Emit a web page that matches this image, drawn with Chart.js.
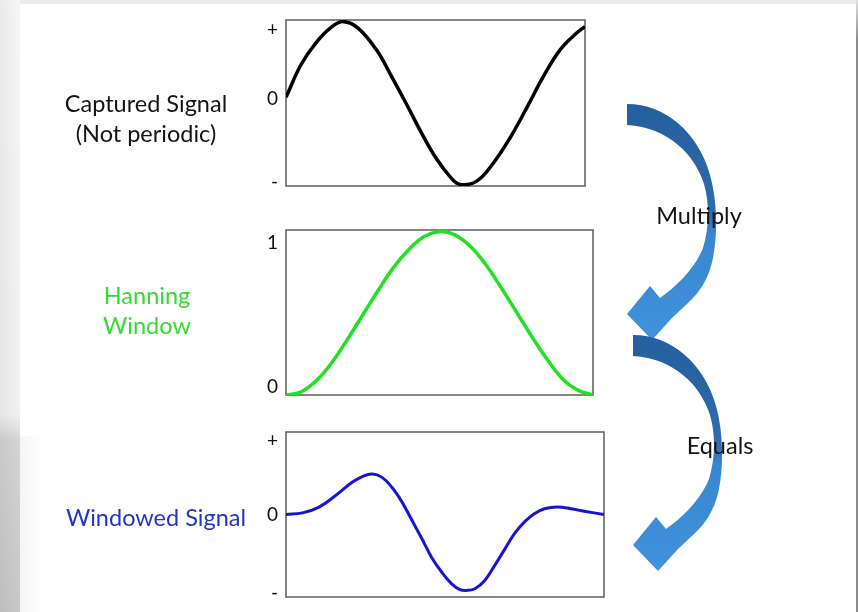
<!DOCTYPE html>
<html>
<head>
<meta charset="utf-8">
<script src="https://cdn.jsdelivr.net/npm/chart.js@4.4.0/dist/chart.umd.js"></script>
<style>
    body { margin: 0; }
    #slide {
        position: relative;
        width: 858px;
        height: 612px;
        overflow: hidden;
        background: #fff;
        font-family: Lato, 'Open Sans', sans-serif;
    }
    #slide canvas, #slide svg, .edge, .lbl { position: absolute; }
    .lbl {
        width: 300px;
        text-align: center;
        font-size: 23.5px;
        line-height: 30px;
        color: #141414;
        white-space: nowrap;
    }
    #topEdge { left: 0; top: 0; width: 858px; height: 4px; background: #ececec; }
    #leftEdge {
        left: 0; top: 0; width: 20px; height: 612px;
        background: linear-gradient(to right, rgba(0,0,0,0.05), rgba(0,0,0,0)),
                    linear-gradient(to bottom, #f6f6f6 0, #f1f1f1 415px, #d4d4d4 440px, #c8c8c8 612px);
    }
    #leftShade {
        left: 20px; top: 436px; width: 24px; height: 176px;
        background: linear-gradient(to right, #f5f5f5, #ffffff);
    }
    #rightEdge {
        left: 856px; top: 0; width: 2px; height: 612px;
        background: linear-gradient(to bottom, #e0e0e0 0, #8c8c8c 40px, #8c8c8c 612px);
    }
</style>
</head>
<body>
<div id="slide">
    <div class="edge" id="topEdge"></div>
    <div class="edge" id="leftEdge"></div>
    <div class="edge" id="leftShade"></div>
    <div class="edge" id="rightEdge"></div>

    <canvas id="signalChart"></canvas>
    <canvas id="windowChart"></canvas>
    <canvas id="windowedChart"></canvas>

    <svg id="arrows" width="858" height="612" style="left:0;top:0">
        <defs>
            <linearGradient id="arrowFill" gradientUnits="userSpaceOnUse" x1="0" y1="105" x2="0" y2="335">
                <stop offset="0" stop-color="#255f9d"/>
                <stop offset="0.46" stop-color="#2c6cae"/>
                <stop offset="0.56" stop-color="#3886cf"/>
                <stop offset="1" stop-color="#4092dc"/>
            </linearGradient>
        </defs>
    </svg>

    <div class="lbl" style="left:-4px;top:88px">Captured Signal</div>
    <div class="lbl" style="left:-4px;top:118px">(Not periodic)</div>
    <div class="lbl" style="left:-3px;top:280px;color:#35dc35">Hanning</div>
    <div class="lbl" style="left:-3px;top:310px;color:#35dc35">Window</div>
    <div class="lbl" style="left:6px;top:502px;color:#2236c2">Windowed Signal</div>
    <div class="lbl" style="left:549px;top:200px">Multiply</div>
    <div class="lbl" style="left:570px;top:430px">Equals</div>
</div>

<script>
// Captured signal (x in % of the plot width)
const sigX = [0, 5.0, 10.0, 15.1, 19.2, 24.1, 30.3, 35.1, 40.1, 45.2, 50.2, 55.2, 58.2, 63.8, 69.3, 74.9, 80.5, 86.0, 91.6, 97.2, 100];
const sigY = [0.07, 0.47, 0.74, 0.93, 1.0, 0.92, 0.65, 0.34, 0.0, -0.36, -0.68, -0.92, -1.0, -0.96, -0.74, -0.43, -0.06, 0.32, 0.65, 0.86, 0.94];
const sigTicks = [0.9, 0.05, -0.97];
const sigTickText = ['+', '0', '-'];

// Hanning window
const hannX = [0, 5, 10, 15, 20, 25, 30, 35, 40, 45, 50, 55, 60, 65, 70, 75, 80, 85, 90, 95, 100];
const hannY = [0, 0.02, 0.09, 0.20, 0.34, 0.49, 0.64, 0.78, 0.89, 0.97, 1.0, 0.98, 0.91, 0.80, 0.66, 0.51, 0.36, 0.22, 0.10, 0.03, 0];
const hannTicks = [0.93, 0.05];
const hannTickText = ['1', '0'];

// Windowed signal
const winX = [0, 5.2, 10.4, 15.6, 20.8, 24.0, 27.1, 30.2, 33.3, 36.5, 39.6, 42.7, 45.8, 49.0, 52.1, 54.7, 56.8, 59.4, 62.5, 65.6, 68.8, 71.9, 75.0, 78.1, 81.3, 85.4, 89.6, 93.8, 100];
const winY = [0, 0.02, 0.09, 0.23, 0.39, 0.46, 0.49, 0.45, 0.33, 0.15, -0.07, -0.29, -0.52, -0.70, -0.84, -0.91, -0.92, -0.90, -0.80, -0.62, -0.42, -0.23, -0.09, 0.01, 0.07, 0.09, 0.07, 0.04, 0];
const winTicks = [0.89, 0, -0.95];
const winTickText = ['+', '0', '-'];

// plot boxes on the slide
const CANVAS_LEFT = 236;
const PAD = 22;
const boxes = {
    signal: { left: 286, right: 585, top: 20, bottom: 186 },
    hann: { left: 286, right: 593, top: 230, bottom: 395 },
    windowed: { left: 286, right: 604, top: 432, bottom: 597 }
};

// frame round the plot area
const framePlugin = {
    id: 'frame',
    beforeDatasetsDraw(chart) {
        const a = chart.chartArea;
        const ctx = chart.ctx;
        ctx.save();
        ctx.strokeStyle = '#5e5e5e';
        ctx.lineWidth = 1.5;
        ctx.strokeRect(a.left, a.top, a.right - a.left, a.bottom - a.top);
        ctx.restore();
    }
};

function makeChart(canvasId, box, xs, ys, color, lineWidth, yMin, yMax, tickVals, tickText) {
    const canvas = document.getElementById(canvasId);
    canvas.width = box.right + 8 - CANVAS_LEFT;
    canvas.height = box.bottom - box.top + PAD * 2;
    canvas.style.left = CANVAS_LEFT + 'px';
    canvas.style.top = (box.top - PAD) + 'px';

    return new Chart(canvas.getContext('2d'), {
        type: 'line',
        data: {
            datasets: [{
                data: xs.map((x, i) => ({ x: x, y: ys[i] })),
                borderColor: color,
                borderWidth: lineWidth,
                borderJoinStyle: 'round',
                pointRadius: 0,
                tension: 0.4,
                fill: false
            }]
        },
        options: {
            responsive: false,
            animation: false,
            devicePixelRatio: 1,
            layout: {
                padding: { top: PAD, bottom: PAD, right: 8, left: 0 }
            },
            plugins: {
                legend: { display: false },
                tooltip: { enabled: false }
            },
            scales: {
                x: {
                    type: 'linear',
                    min: 0,
                    max: 100,
                    display: false
                },
                y: {
                    min: yMin,
                    max: yMax,
                    grid: { display: false, drawTicks: false },
                    border: { display: false },
                    afterFit: function(scale) {
                        scale.width = box.left - CANVAS_LEFT;
                    },
                    afterBuildTicks: function(scale) {
                        scale.ticks = tickVals.map(v => ({ value: v }));
                    },
                    ticks: {
                        autoSkip: false,
                        padding: 8,
                        color: '#111111',
                        font: { family: 'Lato', size: 19 },
                        callback: function(value, index) {
                            return tickText[index];
                        }
                    }
                }
            }
        },
        plugins: [framePlugin]
    });
}

makeChart('signalChart', boxes.signal, sigX, sigY, '#000000', 3.5, -1.02, 1.02, sigTicks, sigTickText);
makeChart('windowChart', boxes.hann, hannX, hannY, '#24e024', 3.5, 0, 1.01, hannTicks, hannTickText);
makeChart('windowedChart', boxes.windowed, winX, winY, '#1515d6', 3, -1, 1, winTicks, winTickText);

// curved arrows (Multiply / Equals)
const ARROW_D = 'M 627 104 C 665 104, 698 132, 710 175 C 717 200, 718 232, 713 258 ' +
    'C 709 278, 700 292, 688 303 L 672 318 L 652 340 L 627 314 L 650 286 L 660 298 ' +
    'C 678 285, 695 268, 703 248 C 709 228, 710 205, 704 184 C 695 155, 668 127, 627 125 Z';
const svg = document.getElementById('arrows');
[[0, 0], [6, 231]].forEach(function(shift) {
    const p = document.createElementNS('http://www.w3.org/2000/svg', 'path');
    p.setAttribute('d', ARROW_D);
    p.setAttribute('fill', 'url(#arrowFill)');
    p.setAttribute('transform', 'translate(' + shift[0] + ',' + shift[1] + ')');
    svg.appendChild(p);
});
</script>
</body>
</html>
